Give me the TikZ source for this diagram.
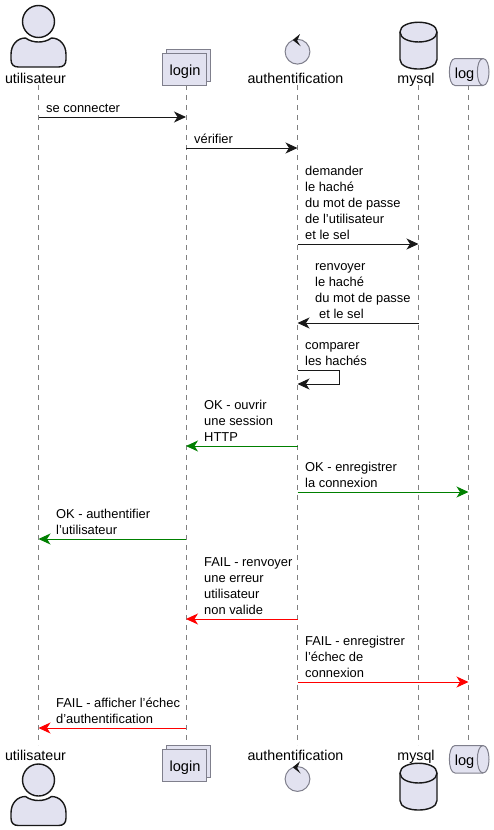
\documentclass[tikz,border=0pt]{standalone}
\usepackage{fontspec}
\setmainfont{Liberation Sans}[Ligatures=ResetAll]
\usetikzlibrary{arrows.meta}
\definecolor{pfill}{HTML}{E2E2F0}
\definecolor{pline}{HTML}{181818}
\definecolor{pgr}{HTML}{7F7F8C}
\definecolor{okgreen}{HTML}{008000}
\tikzset{
  x=1pt,y=-1pt,
  lifeline/.style={draw=black!50,line width=0.7pt,dash pattern=on 5pt off 5pt},
  msgarrow/.style={draw=#1,line width=1pt,-{Stealth[length=12pt,width=11pt,inset=3.5pt,#1]}},
  msgarrow/.default=pline,
  msg/.style={anchor=south west,inner sep=0pt,align=left,font=\fontsize{12.9pt}{16pt}\selectfont,text=black},
  plabel/.style={anchor=base,inner sep=0pt,font=\fontsize{14.25pt}{18pt}\selectfont,text=black},
  boxlabel/.style={anchor=base,inner sep=0pt,font=\fontsize{14.6pt}{18pt}\selectfont,text=black},
  bold shape/.style={fill=pfill,draw=pline,line width=1.4pt},
  thin shape/.style={fill=pfill,draw=pgr,line width=1pt},
}
\newcommand{\actorshape}[2]{% x, head centre y
  \draw[bold shape] (#1,#2) circle[radius=16];
  \draw[bold shape] (#1-27.5,#2+33) .. controls (#1-27.5,#2+23) and (#1-21,#2+16.5) .. (#1-13,#2+16.5)
    .. controls (#1-9,#2+19.5) and (#1-4,#2+20.5) .. (#1,#2+20.5)
    .. controls (#1+4,#2+20.5) and (#1+9,#2+19.5) .. (#1+13,#2+16.5)
    .. controls (#1+21,#2+16.5) and (#1+27.5,#2+23) .. (#1+27.5,#2+33)
    -- (#1+27.5,#2+38) .. controls (#1+27.5,#2+43) and (#1+25,#2+45.5) .. (#1+20,#2+45.5)
    -- (#1-20,#2+45.5) .. controls (#1-25,#2+45.5) and (#1-27.5,#2+43) .. (#1-27.5,#2+38) -- cycle;
}
\newcommand{\loginshape}[1]{% top of back rectangle
  \draw[thin shape] (166.5,#1) rectangle (210.5,#1+32);
  \draw[thin shape] (162.5,#1+4) rectangle (206.5,#1+36);
}
\newcommand{\controlshape}[1]{% centre y
  \draw[thin shape] (297.5,#1) circle[radius=12.4];
  \fill[pline] (292.7,#1-11.7) -- (300,#1-17.7) -- (297.2,#1-11) -- (300.7,#1-5.4) -- cycle;
}
\newcommand{\dbshape}[1]{% top y
  \draw[bold shape] (400,#1+10) .. controls (400,#1-3) and (437,#1-3) .. (437,#1+10)
    -- (437,#1+37.5) .. controls (437,#1+50.2) and (400,#1+50.2) .. (400,#1+37.5) -- cycle;
  \draw[pline,line width=1.4pt] (400,#1+10) .. controls (400,#1+23.3) and (437,#1+23.3) .. (437,#1+10);
}
\newcommand{\queueshape}[2]{% top y, bottom y
  \draw[thin shape] (455,#1) -- (483,#1) .. controls (491,#1) and (491,#2) .. (483,#2)
    -- (455,#2) .. controls (447.5,#2) and (447.5,#1) .. (455,#1) -- cycle;
  \draw[pgr,line width=1pt] (483,#1) .. controls (475.5,#1) and (475.5,#2) .. (483,#2);
}
\begin{document}
\begin{tikzpicture}
\useasboundingbox (0,0) rectangle (494,830);
% lifelines
\foreach \n/\x in {u/38.5,l/186,a/297.5,m/418.5,q/468.5}{
  \coordinate (\n top) at (\x,85);
  \coordinate (\n bot) at (\x,745);
  \draw[lifeline] (\n top) -- (\n bot);
}
% head shapes
\actorshape{38.5}{21.5}
\loginshape{49.5}
\controlshape{51.7}
\dbshape{22}
\queueshape{58.5}{85.5}
\node[plabel] (ut) at (35.5,83) {utilisateur};
\node[boxlabel] (lt) at (185,75) {login};
\node[plabel] (at) at (295.5,83) {authentification};
\node[plabel] (mt) at (416,83) {mysql};
\node[boxlabel] (qt) at (464.5,78) {log};
% foot shapes
\actorshape{38.5}{780}
\loginshape{745}
\controlshape{779}
\dbshape{763}
\queueshape{745.5}{773}
\node[plabel] (ub) at (35.5,760) {utilisateur};
\node[boxlabel] (lb) at (185,771) {login};
\node[plabel] (ab) at (295.5,760) {authentification};
\node[plabel] (mb) at (416,760) {mysql};
\node[boxlabel] (qb) at (464.5,765) {log};
% messages: y positions
\foreach \n/\x in {u/38.5,l/186,a/297.5,m/418.5,q/468.5}{
  \foreach \y in {117,148,244,323,370,384,446,492,539,619,682,728}{
    \coordinate (\n\y) at (\x,\y);
  }
}
\draw[msgarrow] (u117) -- (l117);
\node[msg] (t1) at (46,117.5) {se connecter\strut};
\draw[msgarrow] (l148) -- (a148);
\node[msg] (t2) at (194,148.5) {vérifier\strut};
\draw[msgarrow] (a244) -- (m244);
\node[msg] (t3) at (305,244.5) {demander\\le haché\\du mot de passe\\de l'utilisateur\\et le sel\strut};
\draw[msgarrow] (m323) -- (a323);
\node[msg] (t4) at (315,323.5) {renvoyer\\le haché\\du mot de passe\\\hspace{4pt}et le sel\strut};
\coordinate (sr1) at (339.5,370);
\coordinate (sr2) at (339.5,384);
\draw[msgarrow] (a370) -- (sr1) -- (sr2) -- (a384);
\node[msg] (t5) at (305,370.5) {comparer\\les hachés\strut};
\draw[msgarrow=okgreen] (a446) -- (l446);
\node[msg] (t6) at (204,446.5) {OK - ouvrir\\une session\\HTTP\strut};
\draw[msgarrow=okgreen] (a492) -- (q492);
\node[msg] (t7) at (305,492.5) {OK - enregistrer\\la connexion\strut};
\draw[msgarrow=okgreen] (l539) -- (u539);
\node[msg] (t8) at (56,539.5) {OK - authentifier\\l'utilisateur\strut};
\draw[msgarrow=red] (a619) -- (l619);
\node[msg] (t9) at (204,619.5) {FAIL - renvoyer\\une erreur\\utilisateur\\non valide\strut};
\draw[msgarrow=red] (a682) -- (q682);
\node[msg] (t10) at (305,682.5) {FAIL - enregistrer\\l'échec de\\connexion\strut};
\draw[msgarrow=red] (l728) -- (u728);
\node[msg] (t11) at (56,728.5) {FAIL - afficher l'échec\\d'authentification\strut};
\end{tikzpicture}
\end{document}
